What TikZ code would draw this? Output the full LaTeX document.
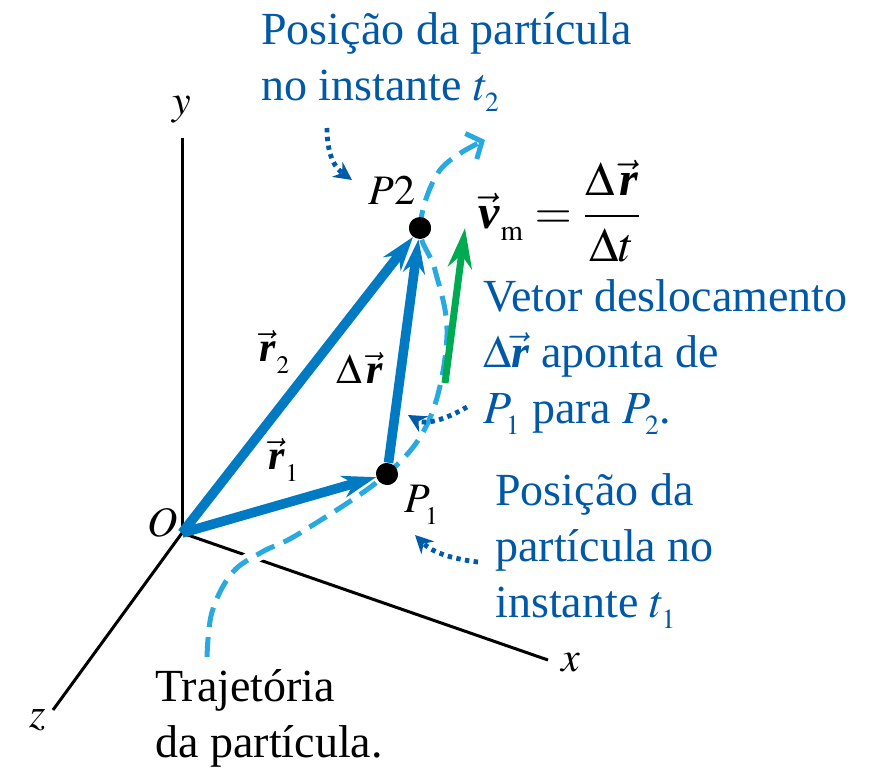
\documentclass[tikz,border=0pt]{standalone}
\usepackage{amsmath}
\usepackage{mathptmx}
\usepackage[no-math]{fontspec}
\setmainfont{Liberation Serif}
\usepackage{tikz}
\usetikzlibrary{arrows.meta}
\definecolor{vecblue}{RGB}{0,122,194}
\definecolor{txtblue}{RGB}{0,88,166}
\definecolor{trajblue}{RGB}{40,170,225}
\definecolor{dispgreen}{RGB}{0,170,80}
\definecolor{callblue}{RGB}{0,90,170}
\newcommand{\vr}{\vec{\textbf{\textit{r}}}}
\newcommand{\lowsub}[1]{_{\raisebox{-2.5pt}{$\scriptscriptstyle #1$}}}

\begin{document}
\begin{tikzpicture}[x=0.5pt, y=-0.5pt,
  axis/.style={line width=1.5pt, black},
  vecarrow/.style={line width=4.8pt, vecblue, -{Stealth[length=17pt, width=11pt]}},
  traj/.style={line width=2.5pt, trajblue, dash pattern=on 10pt off 5pt, -{Straight Barb[length=6pt, width=14pt]}},
  callout/.style={line width=2.4pt, callblue, dash pattern=on 2.2pt off 2.2pt, -{Stealth[length=9pt, width=9pt]}},
  dot/.style={circle, fill=black, inner sep=0pt, minimum size=11pt},
  bluetext/.style={txtblue, align=left, anchor=base west, inner sep=0pt, font=\fontsize{23}{28}\selectfont},
  blacktext/.style={black, align=left, anchor=base west, inner sep=0pt, font=\fontsize{23}{28}\selectfont},
  lbl/.style={inner sep=0pt, font=\fontsize{21}{25}\selectfont}
]
\useasboundingbox (0,0) rectangle (883,771);

\coordinate (O) at (182,533);
\coordinate (ytop) at (182,138);
\coordinate (xend) at (548,660);
\coordinate (zend) at (53,710);
\node[dot] (P1) at (387,474) {};
\node[dot] (P2) at (420,228) {};

\draw[axis] (O) -- (ytop);
\draw[axis] (O) -- (xend);
\draw[axis] (O) -- (zend);
\node[lbl] (ylbl) at (182,110) {$y$};
\node[lbl] (xlbl) at (571,663) {$x$};
\node[lbl] (zlbl) at (38,720) {$z$};
\node[lbl] (olbl) at (163,523) {$O$};

\draw[traj, preaction={draw=white, line width=7pt, solid, -}] plot[smooth, tension=0.6] coordinates {(207,657) (212,612) (232,573) (262,552) (300,533) (P1.center) (430,418) (447,335) (435,270) (P2.center) (440,170) (485,140)};

\draw[vecarrow] (O) -- (P1);
\draw[vecarrow] (O) -- (P2);
\draw[vecarrow] (P1) -- (P2);
\node[dot] at (P1) {};
\node[dot] at (P2) {};

\coordinate (gs) at (445,383);
\coordinate (ge) at (465,228);
\draw[line width=3.5pt, dispgreen, -{Stealth[length=20pt, width=12pt]}] (gs) -- (ge);

\node[lbl] (r2lbl) at (275,352) {$\vr\lowsub{2}$};
\node[lbl] (r1lbl) at (284,460) {$\vr\lowsub{1}$};
\node[lbl] (drlbl) at (360,368) {$\Delta\,\vr$};
\node[lbl] (p1lbl) at (422,505) {$P\lowsub{1}$};
\node[lbl] (p2lbl) at (392,190) {$P2$};

\node[lbl, font=\fontsize{24}{28}\selectfont] (vm) at (560,211) {$\vec{\textbf{\textit{v}}}\lowsub{\mathrm{m}}=\dfrac{\Delta\,\vr}{\Delta t}$};

\node[bluetext] (post2) at (261,100) {Posição da partícula\\no instante $t\lowsub{2}$};
\node[bluetext] (vetor) at (483,423) {Vetor deslocamento\\$\Delta\vr$ aponta de\\$P\lowsub{1}$ para $P\lowsub{2}$.};
\node[bluetext] (post1) at (495,617) {Posição da\\partícula no\\instante $t\lowsub{1}$};
\node[blacktext] (traj) at (155,757) {Trajetória\\da partícula.};

\coordinate (c2s) at (327,128);
\coordinate (c2e) at (352,180);
\coordinate (c12s) at (467,407);
\coordinate (c12e) at (408,415);
\coordinate (c1s) at (478,562);
\coordinate (c1e) at (415,535);
\draw[callout] (c2s) .. controls (327,160) and (338,170) .. (c2e);
\draw[callout] (c12s) .. controls (445,420) and (425,425) .. (c12e);
\draw[callout] (c1s) .. controls (445,558) and (430,550) .. (c1e);
\end{tikzpicture}
\end{document}
